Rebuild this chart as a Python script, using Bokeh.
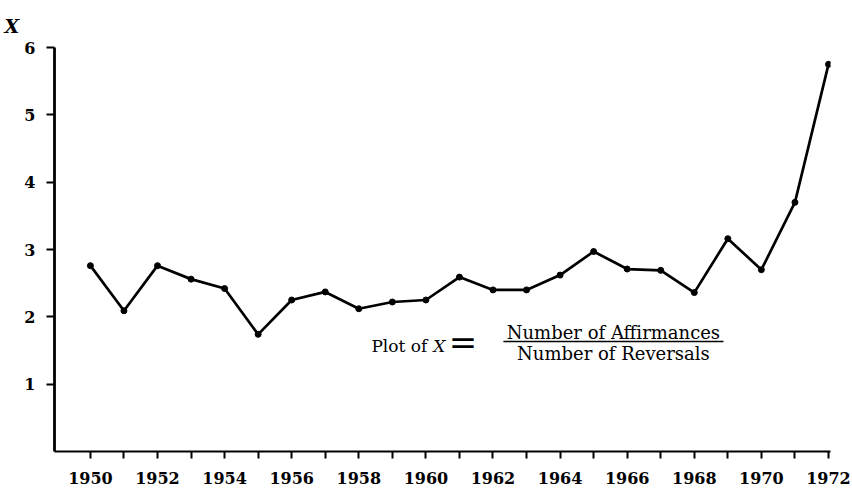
from bokeh.plotting import figure
from bokeh.models import FixedTicker, Range1d, Label, Arrow
from bokeh.embed import file_html
from bokeh.resources import INLINE

years = list(range(1950, 1973))
ratio = [2.76, 2.09, 2.76, 2.56, 2.42, 1.74, 2.25, 2.37, 2.12, 2.22, 2.25, 2.59,
         2.40, 2.40, 2.62, 2.97, 2.71, 2.69, 2.36, 3.16, 2.70, 3.70, 5.75]
x_ticks = list(range(1950, 1973))
y_ticks = [1, 2, 3, 4, 5, 6]
x_tick_labels = {y: (str(y) if y % 2 == 0 else "") for y in x_ticks}

FONT = "DejaVu Serif"

p = figure(width=852, height=490, output_backend="svg", toolbar_location=None,
           x_range=Range1d(1948.93, 1972.06), y_range=Range1d(0, 6.0),
           min_border_left=54, min_border_right=22, min_border_top=47, min_border_bottom=39)
p.outline_line_color = None
p.xgrid.visible = False
p.ygrid.visible = False
p.background_fill_color = "white"
p.border_fill_color = "white"

# axis name "X" at top-left, as the title
p.title.text = "X"
p.title.align = "left"
p.title.offset = -50
p.title.standoff = 22
p.title.text_font = FONT
p.title.text_font_style = "bold italic"
p.title.text_font_size = "19px"
p.title.text_color = "black"

p.line(years, ratio, line_color="black", line_width=2.7)
p.scatter(years, ratio, size=6, color="black")

xa = p.xaxis[0]
xa.ticker = FixedTicker(ticks=x_ticks)
xa.major_label_overrides = x_tick_labels
xa.minor_tick_line_color = None
xa.major_tick_in = 0
xa.major_tick_out = 7
xa.major_tick_line_width = 2
xa.axis_line_width = 2.2
xa.major_label_standoff = 13
xa.major_label_text_font = FONT
xa.major_label_text_font_size = "16px"
xa.major_label_text_font_style = "bold"
xa.major_label_text_color = "black"

ya = p.yaxis[0]
ya.ticker = FixedTicker(ticks=y_ticks)
ya.minor_tick_line_color = None
ya.major_tick_in = 0
ya.major_tick_out = 8
ya.major_tick_line_width = 2
ya.axis_line_width = 2.8
ya.major_label_standoff = 11
ya.major_label_text_font = FONT
ya.major_label_text_font_size = "16px"
ya.major_label_text_font_style = "bold"
ya.major_label_text_color = "black"

# formula annotation
p.add_layout(Label(x=1958.375, y=1.57, text="Plot of", text_font=FONT,
                   text_font_size="17px", text_color="black", text_baseline="alphabetic"))
p.add_layout(Label(x=1960.22, y=1.57, text="X", text_font=FONT, text_font_style="italic",
                   text_font_size="17px", text_color="black", text_baseline="alphabetic"))
p.add_layout(Label(x=1960.68, y=1.62, text="=", text_font=FONT,
                   text_font_size="34px", text_color="black", text_baseline="alphabetic"))
p.add_layout(Label(x=1965.59, y=1.77, text="Number of Affirmances", text_font=FONT,
                   text_font_size="18px", text_color="black", text_align="center",
                   text_baseline="alphabetic"))
p.add_layout(Label(x=1965.59, y=1.45, text="Number of Reversals", text_font=FONT,
                   text_font_size="18px", text_color="black", text_align="center",
                   text_baseline="alphabetic"))
p.add_layout(Arrow(start=None, end=None, x_start=1962.31, y_start=1.634, x_end=1968.87, y_end=1.634,
                   line_color="black", line_width=1.6))

open("out.html", "w").write(file_html(p, INLINE))
